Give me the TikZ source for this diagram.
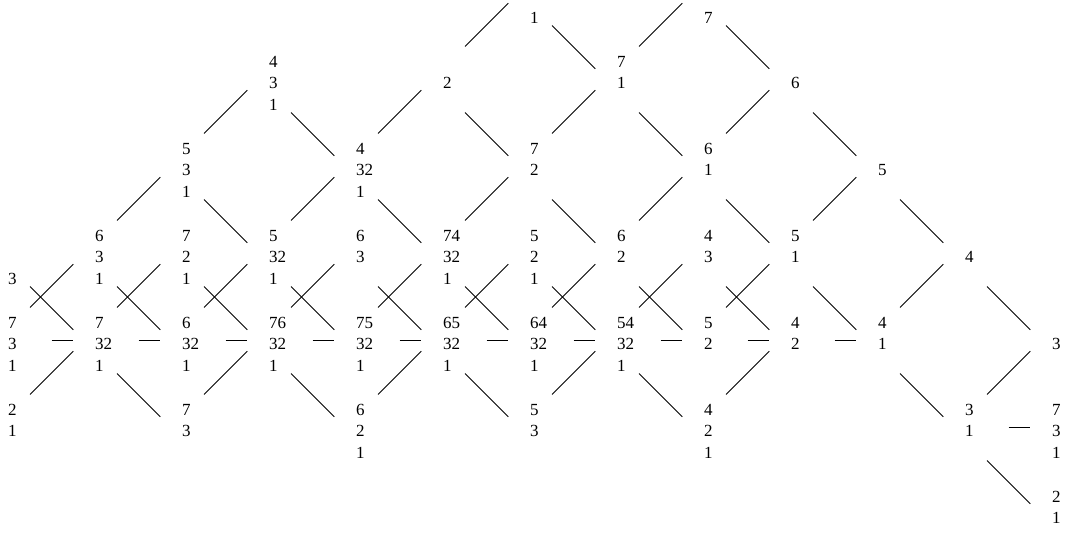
\documentclass[tikz,border=0pt]{standalone}
\usepackage{fontspec}
\setmainfont{Liberation Serif}
\usepackage{tikz}
\newcommand{\pilha}[3]{\begin{tabular}{@{}l@{}}\mbox{}#1\\\mbox{}#2\\\mbox{}#3\end{tabular}}

\begin{document}
\begin{tikzpicture}[x=51.18pt, y=-51.18pt,
    every node/.style={anchor=west, inner xsep=6.4pt, inner ysep=0pt,
        text height=27.48pt, text depth=16.6pt,
        font=\rmfamily\fontsize{10pt}{12.76pt}\selectfont},
    dg/.style={line width=0.5pt, shorten <=27.47pt, shorten >=8.88pt},
    hz/.style={line width=0.5pt, shorten <=32.17pt, shorten >=6.29pt}]
    \useasboundingbox (0.0345,0.0862) rectangle (12.2874,6.2126);

    % Posicionar os vértices
    \node (v6-0) at (6,0) {\pilha{}{}{1}};
    \node (v8-0) at (8,0) {\pilha{}{}{7}};

    \node (v3-1) at (3,1) {\pilha{4}{3}{1}};
    \node (v5-1) at (5,1) {\pilha{}{2}{}};
    \node (v7-1) at (7,1) {\pilha{7}{1}{}};
    \node (v9-1) at (9,1) {\pilha{}{6}{}};

    \node (v2-2) at (2,2) {\pilha{5}{3}{1}};
    \node (v4-2) at (4,2) {\pilha{4}{32}{1}};
    \node (v6-2) at (6,2) {\pilha{7}{2}{}};
    \node (v8-2) at (8,2) {\pilha{6}{1}{}};
    \node (v10-2) at (10,2) {\pilha{}{5}{}};

    \node (v0-3) at (0,3) {\pilha{}{}{3}};
    \node (v1-3) at (1,3) {\pilha{6}{3}{1}};
    \node (v2-3) at (2,3) {\pilha{7}{2}{1}};
    \node (v3-3) at (3,3) {\pilha{5}{32}{1}};
    \node (v4-3) at (4,3) {\pilha{6}{3}{}};
    \node (v5-3) at (5,3) {\pilha{74}{32}{1}};
    \node (v6-3) at (6,3) {\pilha{5}{2}{1}};
    \node (v7-3) at (7,3) {\pilha{6}{2}{}};
    \node (v8-3) at (8,3) {\pilha{4}{3}{}};
    \node (v9-3) at (9,3) {\pilha{5}{1}{}};
    \node (v11-3) at (11,3) {\pilha{}{4}{}};

    \node (v0-4) at (0,4) {\pilha{7}{3}{1}};
    \node (v1-4) at (1,4) {\pilha{7}{32}{1}};
    \node (v2-4) at (2,4) {\pilha{6}{32}{1}};
    \node (v3-4) at (3,4) {\pilha{76}{32}{1}};
    \node (v4-4) at (4,4) {\pilha{75}{32}{1}};
    \node (v5-4) at (5,4) {\pilha{65}{32}{1}};
    \node (v6-4) at (6,4) {\pilha{64}{32}{1}};
    \node (v7-4) at (7,4) {\pilha{54}{32}{1}};
    \node (v8-4) at (8,4) {\pilha{5}{2}{}};
    \node (v9-4) at (9,4) {\pilha{4}{2}{}};
    \node (v10-4) at (10,4) {\pilha{4}{1}{}};
    \node (v12-4) at (12,4) {\pilha{}{3}{}};

    \node (v0-5) at (0,5) {\pilha{2}{1}{}};
    \node (v2-5) at (2,5) {\pilha{7}{3}{}};
    \node (v4-5) at (4,5) {\pilha{6}{2}{1}};
    \node (v6-5) at (6,5) {\pilha{5}{3}{}};
    \node (v8-5) at (8,5) {\pilha{4}{2}{1}};
    \node (v11-5) at (11,5) {\pilha{3}{1}{}};
    \node (v12-5) at (12,5) {\pilha{7}{3}{1}};

    \node (v12-6) at (12,6) {\pilha{2}{1}{}};

    % Desenhar as arestas
    \draw[dg] (v0-3.west) -- (v1-4.west);
    \draw[dg] (v0-4.west) -- (v1-3.west);
    \draw[hz] (v0-4.west) -- (v1-4.west);
    \draw[dg] (v0-5.west) -- (v1-4.west);

    \draw[dg] (v1-3.west) -- (v2-2.west);
    \draw[dg] (v1-3.west) -- (v2-4.west);
    \draw[dg] (v1-4.west) -- (v2-3.west);
    \draw[hz] (v1-4.west) -- (v2-4.west);
    \draw[dg] (v1-4.west) -- (v2-5.west);

    \draw[dg] (v2-2.west) -- (v3-1.west);
    \draw[dg] (v2-2.west) -- (v3-3.west);
    \draw[dg] (v2-3.west) -- (v3-4.west);
    \draw[dg] (v2-4.west) -- (v3-3.west);
    \draw[hz] (v2-4.west) -- (v3-4.west);
    \draw[dg] (v2-5.west) -- (v3-4.west);

    \draw[dg] (v3-1.west) -- (v4-2.west);
    \draw[dg] (v3-3.west) -- (v4-2.west);
    \draw[dg] (v3-3.west) -- (v4-4.west);
    \draw[dg] (v3-4.west) -- (v4-3.west);
    \draw[hz] (v3-4.west) -- (v4-4.west);
    \draw[dg] (v3-4.west) -- (v4-5.west);

    \draw[dg] (v4-2.west) -- (v5-1.west);
    \draw[dg] (v4-2.west) -- (v5-3.west);
    \draw[dg] (v4-3.west) -- (v5-4.west);
    \draw[dg] (v4-4.west) -- (v5-3.west);
    \draw[hz] (v4-4.west) -- (v5-4.west);
    \draw[dg] (v4-5.west) -- (v5-4.west);

    \draw[dg] (v5-1.west) -- (v6-0.west);
    \draw[dg] (v5-1.west) -- (v6-2.west);
    \draw[dg] (v5-3.west) -- (v6-2.west);
    \draw[dg] (v5-3.west) -- (v6-4.west);
    \draw[dg] (v5-4.west) -- (v6-3.west);
    \draw[hz] (v5-4.west) -- (v6-4.west);
    \draw[dg] (v5-4.west) -- (v6-5.west);

    \draw[dg] (v6-0.west) -- (v7-1.west);
    \draw[dg] (v6-2.west) -- (v7-1.west);
    \draw[dg] (v6-2.west) -- (v7-3.west);
    \draw[dg] (v6-3.west) -- (v7-4.west);
    \draw[dg] (v6-4.west) -- (v7-3.west);
    \draw[hz] (v6-4.west) -- (v7-4.west);
    \draw[dg] (v6-5.west) -- (v7-4.west);

    \draw[dg] (v7-1.west) -- (v8-0.west);
    \draw[dg] (v7-1.west) -- (v8-2.west);
    \draw[dg] (v7-3.west) -- (v8-2.west);
    \draw[dg] (v7-3.west) -- (v8-4.west);
    \draw[dg] (v7-4.west) -- (v8-3.west);
    \draw[hz] (v7-4.west) -- (v8-4.west);
    \draw[dg] (v7-4.west) -- (v8-5.west);

    \draw[dg] (v8-0.west) -- (v9-1.west);
    \draw[dg] (v8-2.west) -- (v9-1.west);
    \draw[dg] (v8-2.west) -- (v9-3.west);
    \draw[dg] (v8-3.west) -- (v9-4.west);
    \draw[dg] (v8-4.west) -- (v9-3.west);
    \draw[hz] (v8-4.west) -- (v9-4.west);
    \draw[dg] (v8-5.west) -- (v9-4.west);

    \draw[dg] (v9-1.west) -- (v10-2.west);
    \draw[dg] (v9-3.west) -- (v10-2.west);
    \draw[dg] (v9-3.west) -- (v10-4.west);
    \draw[hz] (v9-4.west) -- (v10-4.west);

    \draw[dg] (v10-2.west) -- (v11-3.west);
    \draw[dg] (v10-4.west) -- (v11-3.west);
    \draw[dg] (v10-4.west) -- (v11-5.west);

    \draw[dg] (v11-3.west) -- (v12-4.west);
    \draw[dg] (v11-5.west) -- (v12-4.west);
    \draw[hz] (v11-5.west) -- (v12-5.west);
    \draw[dg] (v11-5.west) -- (v12-6.west);
\end{tikzpicture}
\end{document}
